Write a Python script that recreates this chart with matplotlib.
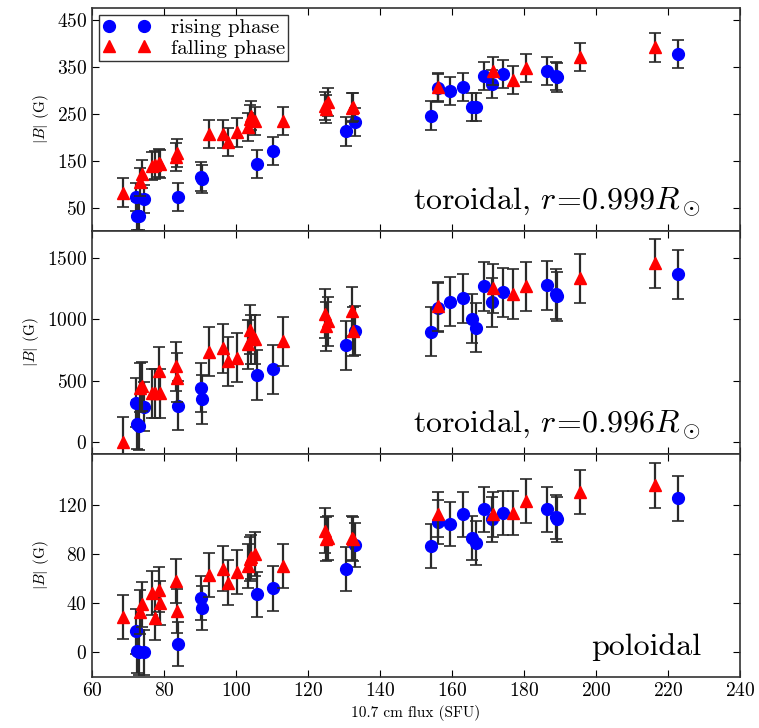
import matplotlib
matplotlib.use("Agg")
import matplotlib.pyplot as plt
from matplotlib.lines import Line2D

plt.rcParams['font.family'] = ['cmr10', 'DejaVu Serif']
plt.rcParams['mathtext.fontset'] = 'cm'
plt.rcParams['axes.formatter.use_mathtext'] = True
plt.rcParams['axes.unicode_minus'] = False

# ---- rising phase (blue circles) ----
rise_flux = [72.3, 72.5, 73.0, 74.5, 84.0, 90.2, 90.5, 106.0, 110.4, 130.6, 133.2,
             154.1, 156.2, 159.4, 163.0, 165.7, 166.7, 168.9, 171.0, 174.1,
             186.3, 188.9, 189.2, 222.9]
rise_tor999 = [72, 33, 33, 68, 73, 116, 111, 143, 171, 212, 233,
               246, 305, 299, 307, 265, 265, 331, 313, 334,
               341, 331, 327, 377]
rise_tor996 = [320, 144, 130, 285, 293, 441, 347, 545, 591, 786, 908,
               897, 1095, 1141, 1173, 1006, 929, 1268, 1138, 1222,
               1276, 1206, 1187, 1368]
rise_pol = [17, 1, 0, 0, 7, 44, 36, 47, 52, 67.5, 87,
            86.5, 106, 104, 112, 93, 89, 116, 108, 113,
            116, 110, 108, 125]

# ---- falling phase (red triangles) ----
fall_flux = [68.7, 73.3, 74.0, 76.6, 77.5, 78.6, 79.0, 83.5, 83.7, 92.6, 96.5,
             97.9, 100.2, 103.9, 104.3, 105.3, 103.4, 113.0, 124.7, 125.6, 124.9,
             132.3, 132.5, 156.2, 171.5, 177.0, 180.7, 195.6, 216.5]
fall_tor999 = [82, 104, 121, 139, 140, 145, 143, 157, 167, 207, 207,
               189, 210, 239, 246, 235, 221, 235, 267, 274, 260,
               263, 265, 307, 341, 322, 348, 370, 391]
fall_tor996 = [0, 441, 455, 396, 396, 577, 396, 618, 523, 734, 762,
               658, 685, 916, 835, 835, 794, 821, 1043, 984, 943,
               1065, 902, 1106, 1254, 1206, 1268, 1336, 1458]
fall_pol = [28.6, 33, 39, 48, 28, 51, 40, 58, 33.5, 63, 68,
            56.6, 65, 75.6, 77.5, 79.7, 70, 70, 98.8, 92.8, 92,
            92.8, 92, 112, 112, 113, 122.7, 130, 135.5]

# ---- error bar half-widths ----
err_tor999 = 30
err_tor996 = 200
err_pol = 18

panels = [
    (rise_tor999, fall_tor999, err_tor999, (0, 475), [50, 150, 250, 350, 450],
     r'toroidal, $r\!=\!0.999R_\odot$'),
    (rise_tor996, fall_tor996, err_tor996, (-100, 1720), [0, 500, 1000, 1500],
     r'toroidal, $r\!=\!0.996R_\odot$'),
    (rise_pol, fall_pol, err_pol, (-20, 161), [0, 40, 80, 120],
     'poloidal'),
]

fig, axes = plt.subplots(3, 1, figsize=(7.59, 7.28), dpi=100, sharex=True)
fig.subplots_adjust(left=0.121, right=0.975, top=0.989, bottom=0.070, hspace=0)

for ax, (ry, fy, err, ylim, yticks, label) in zip(axes, panels):
    ax.errorbar(rise_flux, ry, yerr=err, fmt='o', color='blue', ms=8.5,
                ecolor='#2a2a2a', elinewidth=1.6, capsize=4, capthick=1.2,
                mec='blue', zorder=3)
    ax.errorbar(fall_flux, fy, yerr=err, fmt='^', color='red', ms=8.5,
                ecolor='#2a2a2a', elinewidth=1.6, capsize=4, capthick=1.2,
                mec='red', zorder=4)
    ax.set_ylim(*ylim)
    ax.set_yticks(yticks)
    ax.set_xlim(60, 240)
    ax.set_xticks(range(60, 241, 20))
    ax.tick_params(direction='in', top=True, right=True, labelsize=14, length=5)
    ax.set_ylabel(r'$|B|$ (G)', fontsize=11)
    ax.text(0.94, 0.1, label, transform=ax.transAxes, ha='right', va='baseline',
            fontsize=23)
    for s in ax.spines.values():
        s.set_linewidth(1.2)
        s.set_color('#333333')

axes[2].set_xlabel('10.7 cm flux (SFU)', fontsize=11)

handles = [Line2D([], [], ls='none', marker='o', color='blue', ms=8.5),
           Line2D([], [], ls='none', marker='^', color='red', ms=8.5)]
leg = axes[0].legend(handles, ['rising phase', 'falling phase'], loc='upper left',
                     numpoints=2, fontsize=15, frameon=True, fancybox=False,
                     borderpad=0.15, handlelength=2.3, handletextpad=1.0,
                     labelspacing=0.1, borderaxespad=0.35)
leg.get_frame().set_edgecolor('black')
leg.get_frame().set_linewidth(1.0)

fig.savefig('out.png', dpi=100)
